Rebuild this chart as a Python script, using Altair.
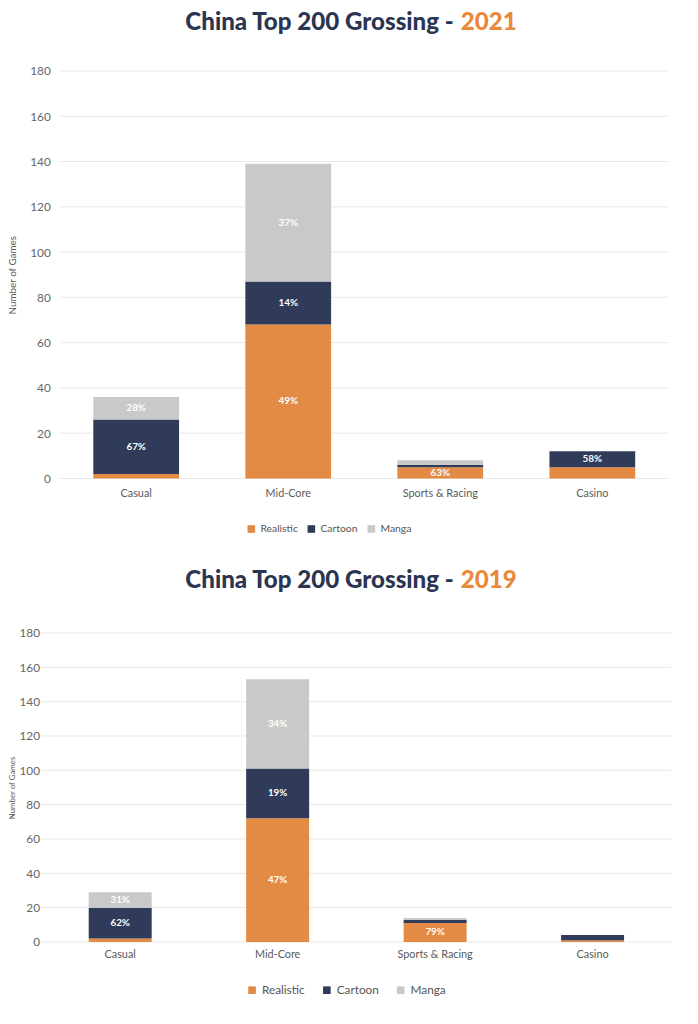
import altair as alt
import pandas as pd

categories = ["Casual", "Mid-Core", "Sports & Racing", "Casino"]
styles = ["Realistic", "Cartoon", "Manga"]
style_colors = ["#E38A45", "#2F3B58", "#C9C9C9"]
y_ticks = [0, 20, 40, 60, 80, 100, 120, 140, 160, 180]
title_main = "China Top 200 Grossing -"

# 2021
realistic_2021 = [2, 68, 5, 5]
cartoon_2021 = [24, 19, 1, 7]
manga_2021 = [10, 52, 2, 0]
lab_realistic_2021 = ["", "49%", "63%", ""]
lab_cartoon_2021 = ["67%", "14%", "", "58%"]
lab_manga_2021 = ["28%", "37%", "", ""]

# 2019
realistic_2019 = [2, 72, 11, 1]
cartoon_2019 = [18, 29, 2, 3]
manga_2019 = [9, 52, 1, 0]
lab_realistic_2019 = ["", "47%", "79%", ""]
lab_cartoon_2019 = ["62%", "19%", "", ""]
lab_manga_2019 = ["31%", "34%", "", ""]

FONT = "Lato"
NAVY_T = "#2B3551"
ORANGE_T = "#E8893E"


def build_df(r, c, m, lr, lc, lm):
    rows = []
    for i, cat in enumerate(categories):
        for k, (s, vals, labs) in enumerate(zip(styles, [r, c, m], [lr, lc, lm])):
            rows.append({"category": cat, "style": s, "value": vals[i], "label": labs[i], "order": k})
    return pd.DataFrame(rows)


def panel(year, df, w, h, x_left, pad_inner, y_title_size, y_label_pad, y_title_pad,
          x_label_pad, legend_x, legend_y, legend_font, legend_col_pad, split_x, title_y):
    base = alt.Chart(df)
    yscale = alt.Scale(domain=[0, 180], nice=False)
    xscale = alt.Scale(paddingInner=pad_inner, paddingOuter=pad_inner / 2, range=[x_left, w])
    yaxis = alt.Axis(values=y_ticks, title="Number of Games", titleFontSize=y_title_size,
                     titleFontWeight="normal", titleColor="#5a5a5a", titleFont=FONT,
                     titlePadding=y_title_pad, labelPadding=y_label_pad,
                     labelFontSize=12, labelColor="#666666", labelFont=FONT,
                     labelOverlap=False, grid=False, ticks=False, domain=False)
    xaxis = alt.Axis(title=None, labelAngle=0, ticks=False, domain=False, grid=False,
                     labelPadding=x_label_pad, labelFontSize=11,
                     labelColor="#5a5a5a", labelFont=FONT)
    grid = alt.Chart(pd.DataFrame({"v": y_ticks})).mark_rule(
        color="#e8e8e8", strokeWidth=1
    ).encode(
        y=alt.Y("v:Q", scale=yscale, axis=yaxis),
        x=alt.value(x_left), x2=alt.value(w),
    )
    bars = base.mark_bar().encode(
        x=alt.X("category:N", sort=categories, scale=xscale, axis=xaxis),
        y=alt.Y("value:Q", stack="zero", scale=yscale, axis=yaxis),
        color=alt.Color("style:N", scale=alt.Scale(domain=styles, range=style_colors),
                        legend=alt.Legend(title=None, orient="none", direction="horizontal",
                                          legendX=legend_x, legendY=legend_y,
                                          symbolType="square", symbolSize=60,
                                          symbolStrokeWidth=0,
                                          labelFontSize=legend_font, labelColor="#555555",
                                          labelFont=FONT, columnPadding=legend_col_pad,
                                          labelOffset=4)),
        order=alt.Order("order:Q"),
    )
    texts = base.transform_stack(
        stack="value", groupby=["category"], as_=["y0", "y1"],
        sort=[alt.SortField("order", order="ascending")]
    ).transform_calculate(
        mid="(datum.y0 + datum.y1) / 2"
    ).transform_filter("datum.label != ''").mark_text(
        color="white", fontWeight="bold", fontSize=10, font=FONT, baseline="middle"
    ).encode(
        x=alt.X("category:N", sort=categories, scale=xscale, axis=xaxis),
        y=alt.Y("mid:Q", scale=yscale, axis=yaxis),
        text="label:N",
    )
    t1 = alt.Chart(pd.DataFrame({"t": [title_main]})).mark_text(
        align="right", baseline="alphabetic", fontSize=24.5, fontWeight=900, font=FONT, color=NAVY_T
    ).encode(text="t:N", x=alt.value(split_x), y=alt.value(title_y))
    t2 = alt.Chart(pd.DataFrame({"t": [year]})).mark_text(
        align="left", baseline="alphabetic", fontSize=24.5, fontWeight=900, font=FONT, color=ORANGE_T
    ).encode(text="t:N", x=alt.value(split_x + 7), y=alt.value(title_y))
    return alt.layer(grid, bars, texts, t1, t2).properties(width=w, height=h)


df21 = build_df(realistic_2021, cartoon_2021, manga_2021,
                lab_realistic_2021, lab_cartoon_2021, lab_manga_2021)
df19 = build_df(realistic_2019, cartoon_2019, manga_2019,
                lab_realistic_2019, lab_cartoon_2019, lab_manga_2019)

p1 = panel("2021", df21, 618, 414, 0, 0.436, 10, 10, 12, 9, 189, 460, 10.5, 8, 400, -42)
p2 = panel("2019", df19, 621, 314, -19, 0.6, 8, 21, 3, 7, 189, 357, 12, 16, 400, -46)

chart = alt.concat(p1, p2, columns=1, spacing=34).resolve_scale(
    color="independent", x="independent", y="independent"
).properties(
    padding={"left": 0, "top": -6, "right": 0, "bottom": 0}, background="white"
).configure_view(stroke="transparent", strokeWidth=0)

chart.save("out.html", embed_options={"renderer": "svg", "actions": False})
